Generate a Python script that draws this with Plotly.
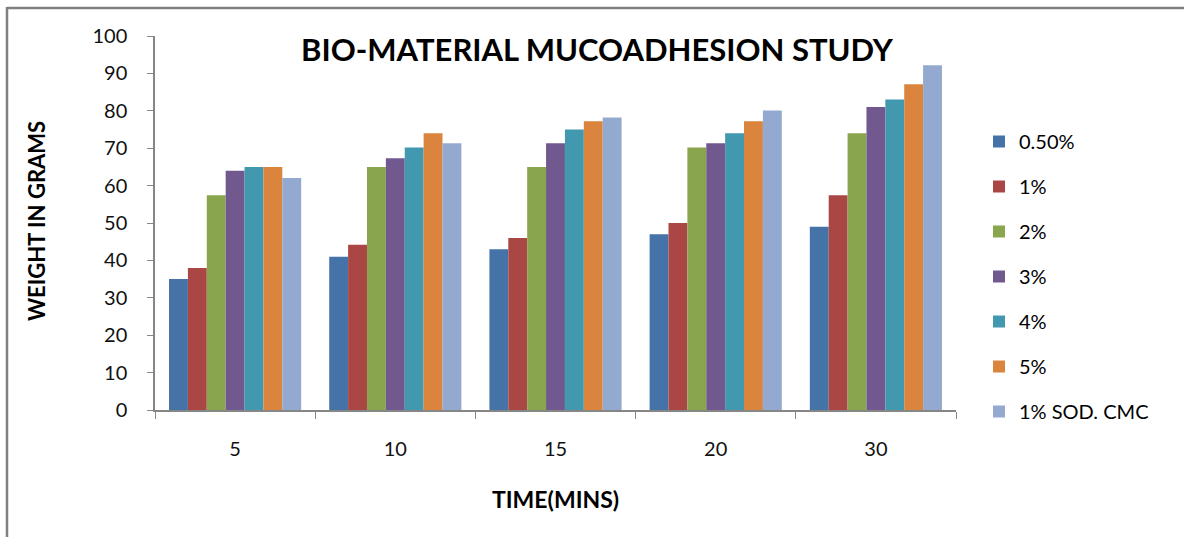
import plotly.graph_objects as go

categories = ["5", "10", "15", "20", "30"]
series_names = ["0.50%", "1%", "2%", "3%", "4%", "5%", "1% SOD. CMC"]
s_050 = [35, 41, 43, 47, 49]
s_1 = [38, 44.2, 46, 50, 57.4]
s_2 = [57.4, 65, 65, 70.2, 74]
s_3 = [64, 67.3, 71.3, 71.3, 81]
s_4 = [65, 70.2, 75, 74, 83]
s_5 = [65, 74, 77.2, 77.2, 87.1]
s_cmc = [62, 71.3, 78.2, 80.1, 92.2]
y_ticks = [0, 10, 20, 30, 40, 50, 60, 70, 80, 90, 100]

colors = ["#4572A7", "#AA4643", "#89A54E", "#71588F", "#4198AF", "#DB843D", "#93A9CF"]
all_series = [s_050, s_1, s_2, s_3, s_4, s_5, s_cmc]

FONT = "Lato, 'Open Sans', sans-serif"

fig = go.Figure()
for name, vals, col in zip(series_names, all_series, colors):
    fig.add_trace(go.Bar(x=categories, y=vals, name=name, marker_color=col,
                         marker_line_width=0, legendgroup=name))

W, H = 1184, 537
L, R, T, B = 155, 228, 36, 127
pw = W - L - R
ph = H - T - B

def px(x):
    return (x - L) / pw

def py(y):
    return (H - B - y) / ph

fig.update_layout(
    width=W, height=H,
    margin=dict(l=L, r=R, t=T, b=B),
    paper_bgcolor="white", plot_bgcolor="white",
    barmode="group", bargap=0.175, bargroupgap=0,
    font=dict(family=FONT, color="#000000"),
    title=dict(text="<b>BIO-MATERIAL MUCOADHESION STUDY</b>",
               x=597 / W, xref="container", xanchor="center",
               y=1 - 50 / H, yref="container", yanchor="middle",
               font=dict(size=31, family=FONT, color="#000000")),
    legend=dict(x=px(979), y=py(122), xanchor="left", yanchor="top",
                font=dict(size=20, family=FONT), tracegroupgap=16,
                bgcolor="rgba(0,0,0,0)"),
    showlegend=True,
)
fig.update_xaxes(
    type="category", tickson="boundaries", ticks="outside", ticklen=7,
    tickcolor="#868686", showline=True, linecolor="#868686", linewidth=1.5,
    showgrid=False, tickfont=dict(size=20, family=FONT, color="#111111"),
    ticklabelstandoff=20,
)
fig.update_yaxes(
    range=[0, 100], tickvals=y_ticks, ticks="outside", ticklen=6,
    tickcolor="#868686", showline=True, linecolor="#868686", linewidth=1.5,
    showgrid=False, zeroline=False, tickfont=dict(size=20, family=FONT, color="#111111"),
    ticklabelstandoff=16,
)
fig.add_annotation(text="<b>TIME(MINS)</b>", xref="paper", yref="paper",
                   x=0.5, y=py(499), xanchor="center", yanchor="middle",
                   showarrow=False, font=dict(size=23, family=FONT, color="#000000"))
fig.add_annotation(text="<b>WEIGHT IN GRAMS</b>", xref="paper", yref="paper",
                   x=px(36), y=py(221), xanchor="center", yanchor="middle",
                   textangle=-90, showarrow=False,
                   font=dict(size=22, family=FONT, color="#000000"))
# outer chart border (top and left)
fig.add_shape(type="line", xref="paper", yref="paper",
              x0=px(7), x1=px(W + 5), y0=py(8), y1=py(8),
              line=dict(color="#808080", width=2.5))
fig.add_shape(type="line", xref="paper", yref="paper",
              x0=px(7), x1=px(7), y0=py(7), y1=py(H + 5),
              line=dict(color="#808080", width=2.5))

fig.write_html("out.html")
